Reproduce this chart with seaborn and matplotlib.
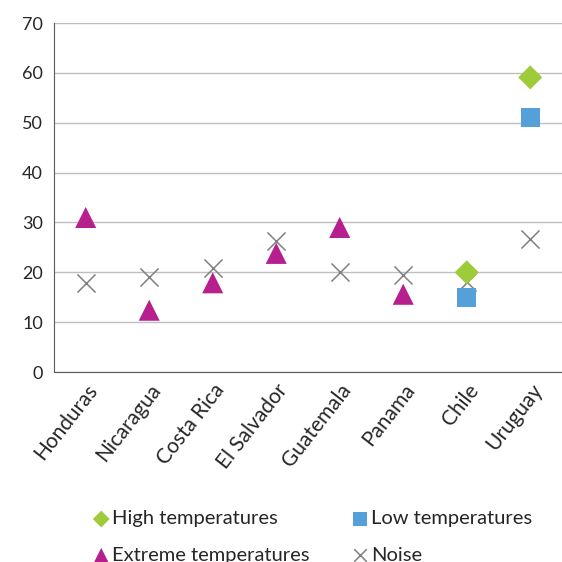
import matplotlib
matplotlib.use("Agg")
import matplotlib.pyplot as plt
import seaborn as sns
import pandas as pd

### Scatter of sensor categories per country

countries = ["Honduras", "Nicaragua", "Costa Rica", "El Salvador",
             "Guatemala", "Panama", "Chile", "Uruguay"]

noise = [17.8, 19.1, 20.8, 26.3, 20.0, 19.4, 18.0, 26.6]
extreme_countries = ["Honduras", "Nicaragua", "Costa Rica", "El Salvador", "Guatemala", "Panama"]
extreme = [31.0, 12.4, 17.9, 23.8, 29.0, 15.6]
high_countries = ["Chile", "Uruguay"]
high = [20.0, 59.1]
low_countries = ["Chile", "Uruguay"]
low = [15.0, 51.0]

colors = {"High temperatures": "#9ECB3A", "Low temperatures": "#55A0D8",
          "Extreme temperatures": "#B71F8E", "Noise": "#808080"}
markers = {"High temperatures": "D", "Low temperatures": "s",
           "Extreme temperatures": "^", "Noise": "x"}
sizes = {"High temperatures": 150, "Low temperatures": 190,
         "Extreme temperatures": 230, "Noise": 170}

# noise first so the category order on x follows all eight countries
df = pd.concat([
    pd.DataFrame({"country": countries, "value": noise, "series": "Noise"}),
    pd.DataFrame({"country": extreme_countries, "value": extreme, "series": "Extreme temperatures"}),
    pd.DataFrame({"country": high_countries, "value": high, "series": "High temperatures"}),
    pd.DataFrame({"country": low_countries, "value": low, "series": "Low temperatures"}),
], ignore_index=True)

sns.set_style("white")
plt.rcParams["font.family"] = ["Lato", "DejaVu Sans"]

fig = plt.figure(figsize=(5.62, 5.62), dpi=100)
ax = fig.add_axes([0.096, 0.338, 0.904, 0.621])

for s in ["Noise", "Extreme temperatures", "High temperatures", "Low temperatures"]:
    sub = df[df["series"] == s]
    if s == "Noise":
        sns.scatterplot(data=sub, x="country", y="value", color=colors[s], marker=markers[s],
                        s=sizes[s], linewidth=1.1, label=s, ax=ax, zorder=3)
    else:
        sns.scatterplot(data=sub, x="country", y="value", color=colors[s], marker=markers[s],
                        s=sizes[s], linewidth=0, edgecolor="none", label=s, ax=ax, zorder=3)

ax.set_xlim(-0.5, len(countries) - 0.5)
ax.set_ylim(0, 70)
ax.set_yticks(range(0, 71, 10))
ax.set_xlabel("")
ax.set_ylabel("")
ax.yaxis.grid(True, color="#BFBFBF", linewidth=1)
ax.set_axisbelow(True)
for side in ["top", "right"]:
    ax.spines[side].set_visible(False)
ax.spines["left"].set_color("#595959")
ax.spines["bottom"].set_color("#595959")

# category boundary ticks
ax.set_xticks([i - 0.5 for i in range(len(countries) + 1)], minor=True)
ax.tick_params(axis="x", which="minor", length=5, color="#999999", direction="out")
ax.tick_params(axis="x", which="major", length=0, labelsize=15, pad=6)
ax.tick_params(axis="y", length=5, color="#999999", direction="out", labelsize=13, pad=3)
plt.setp(ax.get_xticklabels(), rotation=52, ha="right", rotation_mode="anchor")

handles, labels = ax.get_legend_handles_labels()
if ax.get_legend():
    ax.get_legend().remove()
hmap = dict(zip(labels, handles))
leg_order = ["High temperatures", "Extreme temperatures", "Low temperatures", "Noise"]
fig.legend([hmap[l] for l in leg_order], leg_order, ncol=2, loc="lower left",
           bbox_to_anchor=(0.13, -0.035), frameon=False, fontsize=14.5,
           handletextpad=0.05, columnspacing=2.0, labelspacing=0.95, markerscale=0.7,
           handlelength=1.0)

fig.savefig("out.png", dpi=100)
